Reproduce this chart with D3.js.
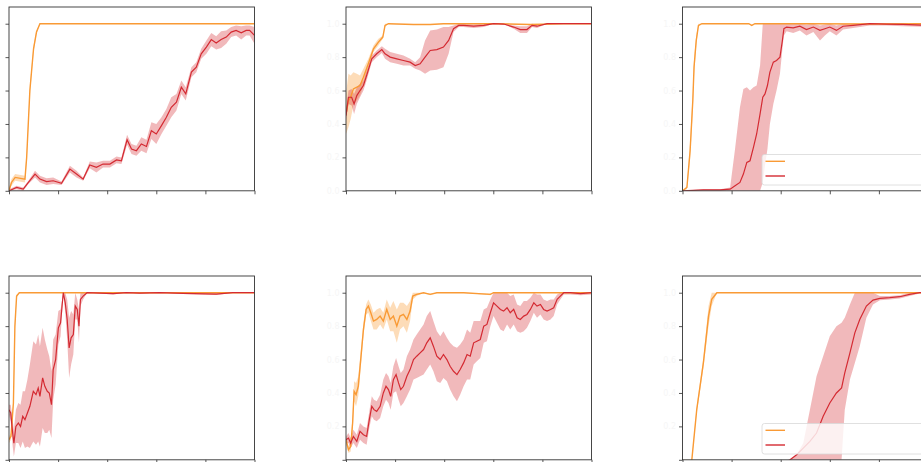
<!DOCTYPE html>
<html><head><meta charset="utf-8">
<script src="https://cdn.jsdelivr.net/npm/d3@7"></script>
<style>body{margin:0;background:#fff}svg{display:block}</style>
</head><body>
<svg id="c" width="921" height="462"></svg>
<script>
// ---------- data (x in % of training, y = success rate) ----------
const yTicks = [0, 0.2, 0.4, 0.6, 0.8, 1.0];
const xTicks = [0, 20, 40, 60, 80, 100];

// Panel 1
const p1OrangeX  = [0, 1, 2.5, 6.5, 7.2, 8.5, 10, 11.2, 12.6, 20, 40, 60, 80, 100];
const p1Orange   = [0.0, 0.05, 0.08, 0.07, 0.2, 0.6, 0.85, 0.95, 1.0, 1.0, 1.0, 1.0, 1.0, 1.0];
const p1OrangeSd = [0.01, 0.02, 0.02, 0.02, 0.03, 0.03, 0.02, 0.01, 0, 0, 0, 0, 0, 0];
const p1RedX  = [0,3.1,5.8,7.9,10.6,12.6,15.3,18.0,21.4,24.8,27.5,30.2,32.9,35.6,38.3,41.1,43.8,45.8,48.1,49.9,51.9,53.9,56.0,58.0,60.0,62.1,64.1,66.1,68.2,70.2,72.0,74.3,76.3,78.3,80.4,82.4,84.4,86.4,88.5,90.5,92.5,94.6,96.6,98.0,100];
const p1Red   = [0.0,0.02,0.01,0.05,0.10,0.07,0.055,0.06,0.045,0.13,0.10,0.07,0.155,0.14,0.16,0.16,0.185,0.18,0.305,0.25,0.24,0.28,0.265,0.36,0.34,0.39,0.44,0.50,0.53,0.62,0.58,0.71,0.74,0.82,0.86,0.905,0.885,0.905,0.92,0.95,0.96,0.945,0.96,0.96,0.93];
const p1RedSd = [0.01,0.01,0.01,0.01,0.02,0.02,0.02,0.02,0.01,0.02,0.02,0.01,0.02,0.03,0.02,0.02,0.02,0.02,0.03,0.03,0.03,0.04,0.04,0.05,0.06,0.05,0.05,0.06,0.05,0.04,0.04,0.03,0.03,0.03,0.04,0.04,0.04,0.05,0.04,0.03,0.03,0.04,0.03,0.03,0.05];

// Panel 2
const p2OrangeX  = [0,1.0,1.9,3.0,4.4,5.7,7.1,9.1,11.2,13.2,15.0,15.9,17.3,27.5,34.3,39.7,47.9,61.5,75.1,88.7,100];
const p2Orange   = [0.46,0.54,0.56,0.61,0.62,0.63,0.68,0.76,0.85,0.89,0.92,0.99,1.0,0.995,0.995,1.0,1.0,1.0,0.995,1.0,1.0];
const p2OrangeSd = [0.12,0.16,0.13,0.1,0.08,0.06,0.05,0.03,0.02,0.02,0.01,0.01,0,0,0,0,0,0,0,0,0];
const p2RedX  = [0,1.0,2.3,3.3,4.4,5.7,7.1,8.4,10.5,12.5,14.6,15.9,18.0,20.7,23.4,26.1,28.2,30.2,32.2,34.3,37.0,39.7,41.8,43.8,45.9,47.9,52.0,56.1,60.1,64.2,68.3,71.0,73.7,75.8,77.8,81.9,88.7,100];
const p2Red   = [0.45,0.56,0.56,0.52,0.57,0.60,0.63,0.69,0.79,0.82,0.845,0.82,0.80,0.79,0.78,0.77,0.75,0.76,0.80,0.84,0.845,0.86,0.90,0.97,0.99,0.99,0.985,0.99,1.0,0.998,0.98,0.965,0.965,0.99,0.985,1.0,1.0,1.0];
const p2RedSd = [0.03,0.04,0.05,0.06,0.05,0.04,0.03,0.03,0.02,0.02,0.02,0.03,0.03,0.03,0.03,0.02,0.02,0.04,0.1,0.12,0.12,0.12,0.08,0.02,0.01,0.01,0.01,0.01,0.0,0.0,0.01,0.02,0.02,0.01,0.01,0,0,0];

// Panel 3
const p3OrangeX  = [0,1.8,3.1,4.2,4.7,5.6,6.5,7.9,15,27,28.2,29.5,50,75,100];
const p3Orange   = [0,0.02,0.24,0.54,0.74,0.90,0.99,1.0,1.0,1.0,0.99,1.0,1.0,0.998,1.0];
const p3OrangeSd = [0,0.01,0.05,0.06,0.05,0.03,0.01,0,0,0,0,0,0,0,0];
const p3RedX  = [0,8.5,15.3,19.4,21.4,23.4,24.8,26.2,27.5,28.9,30.2,31.6,32.7,33.6,34.6,35.6,37.0,38.3,39.7,40.7,41.3,42.4,45.1,47.8,50.5,53.3,56.0,58.0,60.0,62.7,65.4,69.5,76.3,83.1,89.8,100];
const p3Red   = [0.0,0.005,0.006,0.01,0.03,0.05,0.10,0.17,0.18,0.26,0.34,0.46,0.56,0.58,0.63,0.71,0.77,0.78,0.80,0.90,0.97,0.98,0.975,0.985,0.965,0.98,0.96,0.97,0.98,0.96,0.985,0.99,1.0,0.998,0.996,0.99];
const p3RedLo = [0,0,0,0,0,0,0,0,0,0,0,0,0.05,0.15,0.25,0.40,0.52,0.60,0.70,0.85,0.93,0.955,0.945,0.96,0.93,0.95,0.90,0.93,0.955,0.93,0.965,0.975,0.99,0.99,0.985,0.98];
const p3RedHi = [0,0.01,0.01,0.02,0.25,0.5,0.61,0.62,0.60,0.62,0.63,0.75,1.0,1.0,1.0,1.0,1.0,1.0,1.0,1.0,1.0,1.0,1.0,1.0,0.995,1.0,0.99,0.995,1.0,0.99,1.0,1.0,1.0,1.0,1.0,1.0];

// Panel 4
const p4OrangeX  = [0,0.8,1.8,2.4,3.1,4.2,20,50,100];
const p4Orange   = [0.12,0.14,0.34,0.80,0.98,1.0,1.0,1.0,1.0];
const p4OrangeSd = [0.02,0.02,0.03,0.03,0.01,0,0,0,0];
const p4RedX  = [0,0.7,1.5,2.0,2.8,3.8,4.7,5.6,6.5,7.5,8.5,9.9,11.0,11.9,12.6,13.7,14.6,15.6,16.4,17.3,18.0,19.0,20.1,21.0,22.1,22.9,23.7,24.5,25.3,26.2,27.0,27.8,28.5,29.1,30.2,31.8,37.0,42.4,47.8,53.3,61.4,70.9,84.4,91.2,100];
const p4Red   = [0.30,0.28,0.16,0.10,0.20,0.22,0.20,0.26,0.24,0.28,0.32,0.41,0.39,0.43,0.38,0.49,0.44,0.41,0.40,0.33,0.54,0.60,0.79,0.82,1.0,0.94,0.84,0.67,0.73,0.75,0.92,0.90,0.80,0.96,0.98,1.0,0.998,0.994,1.0,0.997,1.0,0.996,0.992,1.0,1.0];
const p4RedSd = [0.03,0.05,0.08,0.08,0.1,0.12,0.13,0.15,0.17,0.2,0.25,0.3,0.3,0.32,0.3,0.3,0.28,0.25,0.22,0.2,0.18,0.15,0.1,0.08,0.01,0.06,0.12,0.18,0.16,0.12,0.08,0.06,0.1,0.04,0.02,0.0,0.003,0.005,0,0.003,0,0.004,0.006,0,0];

// Panel 5
const p5OrangeX  = [0,1.0,1.9,2.7,3.3,4.1,5.0,6.0,7.1,8.2,9.1,10.1,11.2,12.5,13.9,15.2,16.6,18.0,19.3,20.7,22.0,23.4,24.8,26.1,27.2,28.8,31.6,34.3,37.0,47.9,58.8,60.1,68.3,81.9,100];
const p5Orange   = [0.12,0.06,0.08,0.22,0.41,0.39,0.44,0.60,0.78,0.90,0.92,0.88,0.83,0.84,0.86,0.83,0.90,0.84,0.86,0.80,0.86,0.87,0.84,0.89,0.98,0.99,1.0,0.99,1.0,1.0,0.99,1.0,1.0,1.0,1.0];
const p5OrangeSd = [0.02,0.02,0.03,0.05,0.06,0.07,0.06,0.05,0.04,0.03,0.04,0.05,0.05,0.06,0.05,0.05,0.06,0.07,0.09,0.1,0.08,0.07,0.08,0.06,0.02,0.01,0,0.005,0,0,0.005,0,0,0,0];
const p5RedX  = [0,1.0,1.9,3.0,4.4,5.7,7.1,8.4,9.5,10.5,11.4,12.5,13.9,15.2,16.3,17.3,18.2,19.3,20.4,21.4,22.3,23.4,24.8,26.1,27.5,28.8,30.2,31.6,32.9,34.3,35.6,37.0,38.4,39.7,41.1,42.4,43.8,45.2,46.5,47.9,49.3,50.6,52.0,53.3,54.7,56.1,57.4,58.8,60.1,61.5,62.9,64.2,65.6,66.9,68.3,69.7,71.0,72.4,73.7,75.1,76.5,77.8,79.2,80.5,81.9,83.3,84.6,86.0,87.3,88.7,91.4,95.5,100];
const p5Red   = [0.12,0.13,0.10,0.14,0.11,0.17,0.15,0.14,0.24,0.32,0.30,0.29,0.32,0.40,0.44,0.42,0.38,0.48,0.51,0.46,0.42,0.44,0.50,0.54,0.60,0.62,0.64,0.66,0.70,0.73,0.68,0.62,0.60,0.63,0.60,0.56,0.53,0.51,0.54,0.58,0.63,0.62,0.70,0.71,0.72,0.80,0.81,0.88,0.94,0.92,0.90,0.89,0.91,0.88,0.90,0.85,0.84,0.86,0.87,0.90,0.94,0.92,0.93,0.90,0.89,0.90,0.91,0.96,0.98,1.0,1.0,0.995,1.0];
const p5RedSd = [0.02,0.03,0.03,0.04,0.04,0.05,0.05,0.05,0.05,0.06,0.06,0.06,0.07,0.08,0.08,0.08,0.08,0.08,0.1,0.1,0.1,0.1,0.12,0.12,0.12,0.13,0.14,0.15,0.16,0.16,0.15,0.15,0.14,0.14,0.13,0.14,0.15,0.16,0.15,0.14,0.15,0.14,0.13,0.12,0.11,0.1,0.1,0.08,0.08,0.1,0.12,0.12,0.1,0.1,0.09,0.08,0.08,0.09,0.08,0.07,0.06,0.07,0.06,0.06,0.06,0.06,0.05,0.03,0.02,0.01,0.01,0.01,0.01];

// Panel 6
const p6OrangeX  = [0,3.8,5.8,8.5,10.6,11.9,14.0,30,60,100];
const p6Orange   = [-0.5,0.0,0.3,0.58,0.86,0.96,1.0,1.0,1.0,1.0];
const p6OrangeSd = [0,0.01,0.02,0.03,0.06,0.04,0,0,0,0];
const p6RedX  = [0,22.1,39.7,43.8,46.5,49.2,51.9,54.6,57.3,60.0,62.7,64.8,66.1,68.2,70.2,72.2,74.9,77.6,80.4,84.4,88.5,92.5,96.6,100];
const p6Red   = [-0.1,-0.08,-0.03,0.0,0.03,0.07,0.11,0.16,0.26,0.34,0.40,0.43,0.52,0.64,0.76,0.84,0.92,0.956,0.966,0.97,0.976,0.99,1.0,1.0];
const p6RedLo = [-0.1,-0.08,-0.03,0,0,0,0,0,0,0,0,0,0.3,0.48,0.58,0.68,0.85,0.93,0.955,0.96,0.965,0.98,0.995,1.0];
const p6RedHi = [-0.1,-0.08,-0.03,0,0.03,0.1,0.3,0.5,0.62,0.74,0.80,0.82,0.85,0.93,1.0,1.0,1.0,1.0,0.98,0.98,0.985,1.0,1.0,1.0];

// ---------- build ----------
const ORANGE = "#f99a35", RED = "#d42a32";
const panels = [
  {o:{x:p1OrangeX,y:p1Orange,sd:p1OrangeSd}, r:{x:p1RedX,y:p1Red,sd:p1RedSd}},
  {o:{x:p2OrangeX,y:p2Orange,sd:p2OrangeSd}, r:{x:p2RedX,y:p2Red,sd:p2RedSd}, yLabels:true},
  {o:{x:p3OrangeX,y:p3Orange,sd:p3OrangeSd}, r:{x:p3RedX,y:p3Red,lo:p3RedLo,hi:p3RedHi}, legend:true, yLabels:true},
  {o:{x:p4OrangeX,y:p4Orange,sd:p4OrangeSd}, r:{x:p4RedX,y:p4Red,sd:p4RedSd}},
  {o:{x:p5OrangeX,y:p5Orange,sd:p5OrangeSd}, r:{x:p5RedX,y:p5Red,sd:p5RedSd}, yLabels:true, bottomRow:true},
  {o:{x:p6OrangeX,y:p6Orange,sd:p6OrangeSd}, r:{x:p6RedX,y:p6Red,lo:p6RedLo,hi:p6RedHi}, legend:true, yLabels:true, bottomRow:true}
];
const layout = [{l:9,t:7},{l:346,t:7},{l:682.5,t:7},{l:9,t:276},{l:346,t:276},{l:682.5,t:276}];
const PW = 245.5, PH = 183.8;

const svg = d3.select("#c");
svg.append("rect").attr("width",921).attr("height",462).attr("fill","#fff");

function toRows(s){
  return s.x.map((xv,i)=>{
    const m = s.y[i];
    let lo = s.lo ? s.lo[i] : m - s.sd[i];
    let hi = s.hi ? s.hi[i] : m + s.sd[i];
    return {x:xv, m, lo: Math.max(s.lo? -1 : 0, lo), hi: Math.min(1, hi)};
  });
}

panels.forEach((p,k)=>{
  const L = layout[k];
  const g = svg.append("g").attr("transform",`translate(${L.l},${L.t})`);
  const x = d3.scaleLinear().domain([0,100]).range([0,PW]);
  const y = d3.scaleLinear().domain([0,1.1]).range([PH,0]);
  const cid = "clip"+k;
  g.append("clipPath").attr("id",cid).append("rect").attr("width",PW).attr("height",PH);
  const plot = g.append("g").attr("clip-path",`url(#${cid})`);

  const area = d3.area().x(d=>x(d.x)).y0(d=>y(d.lo)).y1(d=>y(d.hi));
  const line = d3.line().x(d=>x(d.x)).y(d=>y(d.m));

  const oRows = toRows(p.o), rRows = toRows(p.r);
  plot.append("path").datum(oRows).attr("d",area).attr("fill",ORANGE).attr("fill-opacity",0.35);
  plot.append("path").datum(rRows).attr("d",area).attr("fill",RED).attr("fill-opacity",0.33);
  plot.append("path").datum(oRows).attr("d",line).attr("fill","none").attr("stroke",ORANGE).attr("stroke-width",1.4);
  plot.append("path").datum(rRows).attr("d",line).attr("fill","none").attr("stroke",RED).attr("stroke-width",1.2);

  // axes (tick labels are near-white in the reference)
  const fmt = d3.format(".1f");
  const ya = d3.axisLeft(y).tickValues(yTicks).tickSize(3.5).tickPadding(3)
    .tickFormat(d => (!p.yLabels || (p.bottomRow && d === 0)) ? "" : fmt(d));
  const xa = d3.axisBottom(x).tickValues(xTicks).tickSize(3.5).tickFormat("");
  const gy = g.append("g").call(ya);
  const gx = g.append("g").attr("transform",`translate(0,${PH})`).call(xa);
  [gy,gx].forEach(a=>{
    a.select(".domain").remove();
    a.selectAll(".tick line").attr("stroke","#444").attr("stroke-width",0.9);
    a.selectAll(".tick text").attr("fill","#f6f6f6").style("font-family","DejaVu Sans").style("font-size","8px");
  });
  g.append("rect").attr("width",PW).attr("height",PH).attr("fill","none").attr("stroke","#333").attr("stroke-width",0.9);

  if (p.legend){
    const lx = 762 - L.l, ly = (k===2 ? 154.5 : 423.5) - L.t;
    const lg = g.append("g").attr("transform",`translate(${lx},${ly})`);
    lg.append("rect").attr("width",175).attr("height",30.5).attr("rx",2.5)
      .attr("fill","#fff").attr("fill-opacity",0.8).attr("stroke","#d8d8d8").attr("stroke-width",0.8);
    lg.append("line").attr("x1",3.5).attr("x2",23).attr("y1",6.8).attr("y2",6.8).attr("stroke",ORANGE).attr("stroke-width",1.4);
    lg.append("line").attr("x1",3.5).attr("x2",23).attr("y1",21.5).attr("y2",21.5).attr("stroke",RED).attr("stroke-width",1.4);
  }
});
</script>
</body></html>
